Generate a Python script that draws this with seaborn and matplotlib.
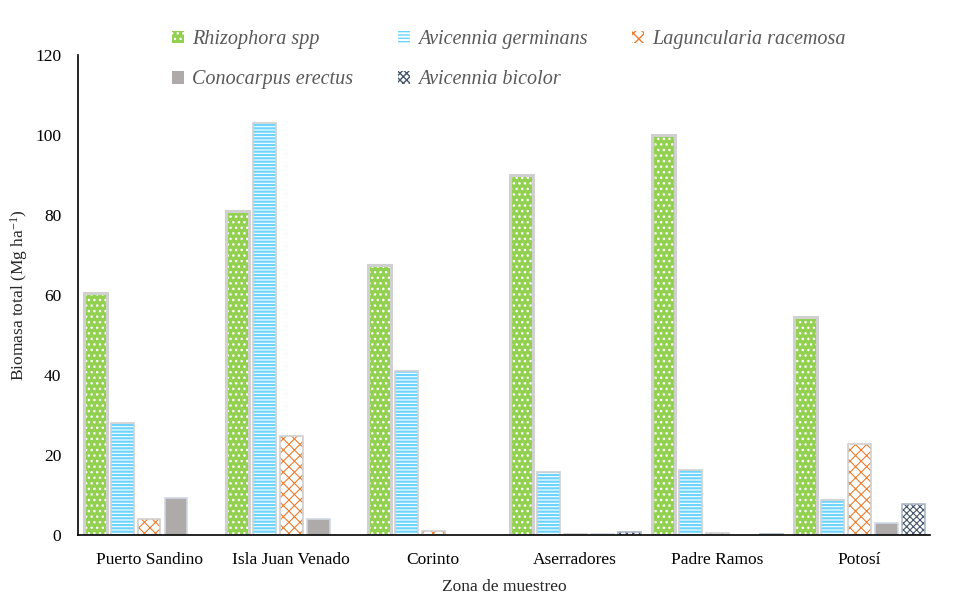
import numpy as np
import pandas as pd
import seaborn as sns
import matplotlib.pyplot as plt
from matplotlib.patches import Patch, Rectangle

# Data
zones = ['Puerto Sandino', 'Isla Juan Venado', 'Corinto', 'Aserradores', 'Padre Ramos', 'Potosí']
species = ['Rhizophora spp', 'Avicennia germinans', 'Laguncularia racemosa',
           'Conocarpus erectus', 'Avicennia bicolor']
rhizophora = [60.5, 81.0, 67.5, 90.0, 100.0, 54.5]
avicennia_g = [28.0, 103.0, 41.0, 15.8, 16.2, 8.7]
laguncularia = [4.0, 24.8, 1.0, 0.3, 0.4, 22.7]
conocarpus = [9.2, 4.0, 0.0, 0.3, 0.0, 2.9]
avicennia_b = [0.0, 0.0, 0.0, 0.7, 0.2, 7.7]

values = [rhizophora, avicennia_g, laguncularia, conocarpus, avicennia_b]
df = pd.DataFrame({
    'zona': np.tile(zones, len(species)),
    'especie': np.repeat(species, len(zones)),
    'biomasa': np.concatenate(values),
})

# style per species: face, hatch, hatch colour, hatch width, border colour, border width
styles = {
    'Rhizophora spp': ('#92D050', '...', 'white', 1.0, '#D0D0D0', 2.2),
    'Avicennia germinans': ('white', '-----', '#6DD3FF', 1.6, '#D0D0D0', 1.2),
    'Laguncularia racemosa': ('white', 'xxx', '#ED7D31', 0.8, '#D0D0D0', 1.2),
    'Conocarpus erectus': ('#AEAAAA', '', '#AEAAAA', 1.0, '#D0D8E4', 1.2),
    'Avicennia bicolor': ('white', 'xxxxx', '#44546A', 0.8, '#ADB9CA', 1.2),
}


def set_hatch_width(p, w):
    if hasattr(p, 'set_hatch_linewidth'):
        p.set_hatch_linewidth(w)
    else:
        p._hatch_linewidth = w


sns.set_style('white')
plt.rcParams['font.family'] = ['Liberation Serif', 'DejaVu Serif']
plt.rcParams['mathtext.default'] = 'regular'

fig, ax = plt.subplots(figsize=(9.56, 6.01), dpi=100)
fig.subplots_adjust(left=0.0816, right=0.973, bottom=0.1098, top=0.9085)

sns.barplot(data=df, x='zona', y='biomasa', hue='especie', order=zones,
            hue_order=species, width=0.95, gap=0.15, legend=False, ax=ax,
            errorbar=None)

# restyle bars per hue (containers follow hue order)
for sp, cont in zip(species, ax.containers):
    face, hatch, hcol, hw, ecol, lw = styles[sp]
    for bar in cont.patches:
        if bar.get_height() <= 0:
            bar.set_visible(False)
            continue
        bar.set_facecolor(face)
        bar.set_hatch(hatch)
        bar.set_edgecolor(hcol)
        bar.set_linewidth(0)
        set_hatch_width(bar, hw)
        # separate border on top so it can differ from the hatch colour
        ax.add_patch(Rectangle(bar.get_xy(), bar.get_width(), bar.get_height(),
                               fill=False, edgecolor=ecol, linewidth=lw,
                               zorder=bar.get_zorder() + 0.1))

ax.set_ylim(0, 120)
ax.set_yticks(range(0, 121, 20))
ax.set_xlim(-0.5, len(zones) - 0.5)
ax.tick_params(axis='both', length=0, labelsize=12.5, colors='black')
ax.tick_params(axis='x', pad=12)
ax.tick_params(axis='y', pad=12)
ax.set_xlabel('Zona de muestreo', fontsize=12.5, labelpad=8)
ax.set_ylabel('Biomasa total (Mg ha$^{-1}$)', fontsize=12.5, labelpad=4)
sns.despine(ax=ax)
for side in ['left', 'bottom']:
    ax.spines[side].set_color('black')
    ax.spines[side].set_linewidth(1.2)

# legend filled column-wise, so reorder to read row-wise like the reference
leg_order = [0, 3, 1, 4, 2]
handles = []
for i in leg_order:
    sp = species[i]
    face, hatch, hcol, hw, ecol, lw = styles[sp]
    h = Patch(facecolor=face, hatch=hatch, edgecolor=hcol, label=sp)
    handles.append(h)
leg = fig.legend(handles=handles, loc='upper left', bbox_to_anchor=(0.161, 0.98),
                 ncol=3, frameon=False, handlelength=0.6, handleheight=0.6,
                 handletextpad=0.4, columnspacing=2.2, labelspacing=1.05,
                 prop={'family': 'Liberation Serif', 'style': 'italic', 'size': 14.5})
for t in leg.get_texts():
    t.set_color('#595959')
for h in leg.legend_handles:
    h.set_linewidth(0)

fig.savefig('out.png', dpi=100)
